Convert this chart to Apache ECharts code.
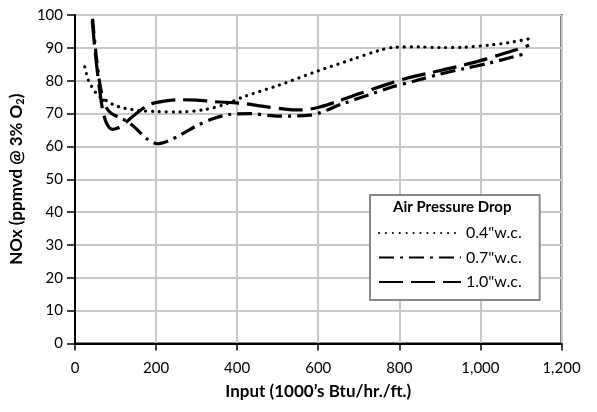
<!DOCTYPE html>
<html>
<head>
<meta charset="utf-8">
<script src="https://cdn.jsdelivr.net/npm/echarts@6/dist/echarts.min.js"></script>
<style>html,body{margin:0;padding:0;background:#fff}#c{width:597px;height:412px}</style>
</head>
<body>
<div id="c"></div>
<script>
var xTicks = [0, 200, 400, 600, 800, 1000, 1200];
var yTicks = [0, 10, 20, 30, 40, 50, 60, 70, 80, 90, 100];
var seriesNames = ['0.4"w.c.', '0.7"w.c.', '1.0"w.c.'];

var x04 = [24, 32, 40, 52, 64, 80, 96, 116, 136, 160, 200, 260, 320, 370, 420, 500, 600, 684, 750, 790, 850, 900, 960, 1020, 1070, 1122];
var y04 = [84.2, 80.5, 78.5, 76.2, 74.8, 73.8, 72.6, 71.8, 71.3, 70.9, 70.6, 70.5, 71.2, 72.8, 75.3, 78.5, 83, 86.5, 89.2, 90.2, 90.3, 90.1, 90.2, 90.8, 91.6, 92.8];

var x07 = [38, 44, 52, 60, 68, 76, 90, 110, 130, 150, 175, 204, 230, 260, 300, 340, 380, 430, 500, 580, 660, 720, 780, 840, 900, 960, 1020, 1070, 1112];
var y07 = [108, 98, 88, 80, 75, 72, 70, 68.8, 67.5, 65.5, 62.5, 60.8, 61.7, 63.5, 66.3, 68.4, 69.7, 70, 69.2, 69.5, 73, 75.5, 78, 80, 82, 83.7, 85.3, 86.9, 88.3];

var x10 = [36, 42, 48, 54, 62, 70, 80, 92, 104, 118, 132, 156, 184, 220, 260, 300, 344, 390, 420, 470, 530, 560, 604, 650, 700, 760, 820, 880, 940, 1000, 1050, 1090, 1120];
var y10 = [108, 99, 91, 84, 76, 70, 66.5, 65.2, 65.5, 66.5, 68, 70.5, 72.8, 73.8, 74.2, 74.1, 73.6, 73.3, 73, 72.1, 71.2, 71.1, 72, 73.8, 76, 78.5, 80.8, 82.5, 84.2, 86.1, 88, 89.5, 90.8];

function pairs(xs, ys) { return xs.map(function (x, i) { return [x, ys[i]]; }); }
function fmt(v) { return String(v).replace(/\B(?=(\d{3})+(?!\d))/g, ','); }

var FONT = 'Lato';
var chart = echarts.init(document.getElementById('c'), null, { renderer: 'canvas' });
chart.setOption({
  animation: false,
  backgroundColor: '#fff',
  color: ['#000', '#000', '#000'],
  grid: { left: 74, right: 35.5, top: 15, bottom: 68.5, show: true, borderColor: '#000', borderWidth: 2, backgroundColor: 'transparent' },
  xAxis: {
    type: 'value', min: xTicks[0], max: xTicks[xTicks.length - 1], interval: 200,
    name: 'Input (1000\u2019s Btu/hr./ft.)', nameLocation: 'middle', nameGap: 40,
    nameTextStyle: { fontFamily: FONT, fontWeight: 'bold', fontSize: 17, color: '#000' },
    axisLine: { show: true, lineStyle: { color: '#000', width: 2 } },
    axisTick: { show: true, length: 7, lineStyle: { color: '#000', width: 1.5 } },
    axisLabel: { formatter: fmt, margin: 17, fontFamily: FONT, fontSize: 15, color: '#000' },
    splitLine: { show: true, lineStyle: { color: '#c8c8c8', width: 2 } }
  },
  yAxis: {
    type: 'value', min: yTicks[0], max: yTicks[yTicks.length - 1], interval: 10,
    name: 'NOx (ppmvd @ 3% O{sub|2})', nameLocation: 'middle', nameGap: 44,
    nameTextStyle: { fontFamily: FONT, fontWeight: 'bold', fontSize: 17, color: '#000',
      rich: { sub: { fontFamily: FONT, fontWeight: 'bold', fontSize: 11, color: '#000', padding: [8, 0, 0, 0] } } },
    axisLine: { show: true, lineStyle: { color: '#000', width: 2 } },
    axisTick: { show: true, length: 8, lineStyle: { color: '#000', width: 1.5 } },
    axisLabel: { margin: 12, fontFamily: FONT, fontSize: 15, color: '#000' },
    splitLine: { show: true, lineStyle: { color: '#c8c8c8', width: 2 } }
  },
  legend: {
    show: true, orient: 'vertical', left: 370, top: 195,
    data: seriesNames,
    itemWidth: 82, itemHeight: 14, itemGap: 8.5,
    backgroundColor: '#fff', borderColor: '#888', borderWidth: 2, borderRadius: 0,
    padding: [30, 18, 10, 8],
    itemStyle: { opacity: 0 },
    textStyle: { fontFamily: FONT, fontSize: 16, color: '#000' }
  },
  graphic: [{
    type: 'text', left: 393, top: 200, z: 100,
    style: { text: 'Air Pressure Drop', font: 'bold 15px ' + FONT, fill: '#000' }
  }],
  series: [
    { name: seriesNames[0], type: 'line', data: pairs(x04, y04), smooth: 0.3, symbol: 'none', clip: true,
      itemStyle: { color: '#000' },
      lineStyle: { color: '#000', width: 3.2, type: [0.1, 6.8], cap: 'round' } },
    { name: seriesNames[1], type: 'line', data: pairs(x07, y07), smooth: 0.3, symbol: 'none', clip: true,
      itemStyle: { color: '#000' },
      lineStyle: { color: '#000', width: 3.2, type: [15, 6, 3, 6], cap: 'butt' } },
    { name: seriesNames[2], type: 'line', data: pairs(x10, y10), smooth: 0.3, symbol: 'none', clip: true,
      itemStyle: { color: '#000' },
      lineStyle: { color: '#000', width: 3.2, type: [24, 8], cap: 'butt' } }
  ]
});
</script>
</body>
</html>
